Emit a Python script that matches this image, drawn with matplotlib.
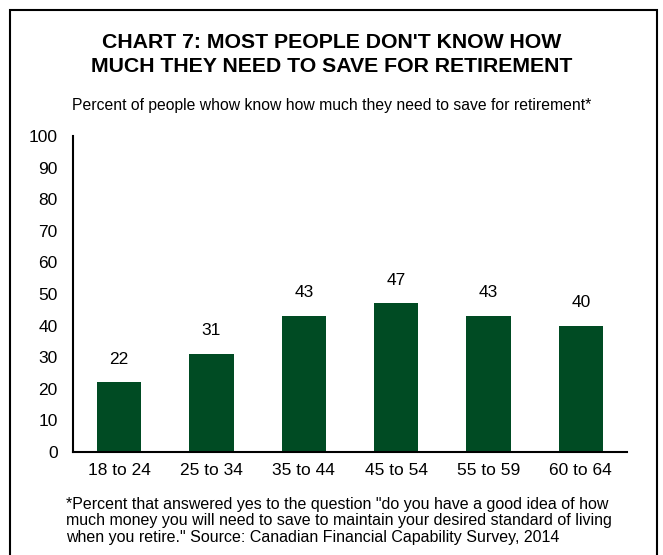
import matplotlib.pyplot as plt
from matplotlib.patches import Rectangle

plt.rcParams['font.family'] = ['Liberation Sans', 'DejaVu Sans']

ages = ['18 to 24', '25 to 34', '35 to 44', '45 to 54', '55 to 59', '60 to 64']
percent = [22, 31, 43, 47, 43, 40]
yticks = list(range(0, 101, 10))

fig = plt.figure(figsize=(6.63, 5.55), dpi=100)
# outer frame (bottom cut off in the original)
fig.add_artist(Rectangle((10 / 663, -0.05), 647 / 663, 1 - 10 / 555 + 0.05,
                         transform=fig.transFigure, fill=False, lw=1.5, ec='black'))

fig.text(0.5, 1 - 43 / 555, "CHART 7: MOST PEOPLE DON'T KNOW HOW", ha='center', va='center',
         fontsize=15.3, fontweight='bold')
fig.text(0.5, 1 - 66 / 555, "MUCH THEY NEED TO SAVE FOR RETIREMENT", ha='center', va='center',
         fontsize=15.3, fontweight='bold')
fig.text(0.5, 1 - 105 / 555, "Percent of people whow know how much they need to save for retirement*",
         ha='center', va='center', fontsize=11.3)

ax = fig.add_axes([73 / 663, 1 - 452 / 555, (627 - 73) / 663, (452 - 136) / 555])
x = range(len(ages))
bars = ax.bar(x, percent, width=0.48, color='#004B23')
for xi, v in zip(x, percent):
    ax.text(xi, v + 5, str(v), ha='center', va='bottom', fontsize=12.5)

ax.set_xlim(-0.5, len(ages) - 0.5)
ax.set_ylim(0, 100)
ax.set_yticks(yticks)
ax.set_xticks(list(x))
ax.set_xticklabels(ages)
ax.tick_params(axis='both', length=0, labelsize=12.5)
ax.tick_params(axis='y', pad=11)
ax.tick_params(axis='x', pad=8)
for s in ['top', 'right']:
    ax.spines[s].set_visible(False)
ax.spines['left'].set_linewidth(1.5)
ax.spines['bottom'].set_linewidth(1.5)

fig.text(66 / 663, 1 - 521 / 555,
         '*Percent that answered yes to the question "do you have a good idea of how\n'
         'much money you will need to save to maintain your desired standard of living\n'
         'when you retire." Source: Canadian Financial Capability Survey, 2014',
         ha='left', va='center', fontsize=11.5, linespacing=1.12)

fig.savefig('out.png', dpi=100)
